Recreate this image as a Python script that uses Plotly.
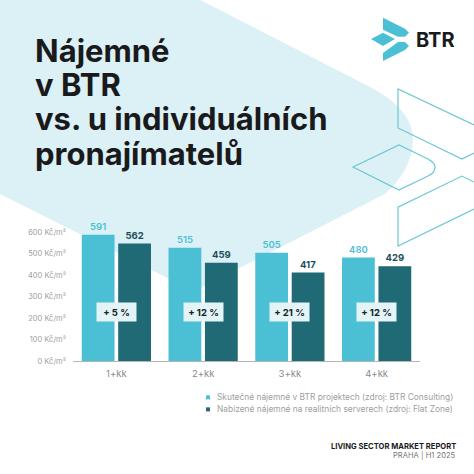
import plotly.graph_objects as go

W, H = 474, 474

categories = ["1+kk", "2+kk", "3+kk", "4+kk"]
# Bar heights as drawn in the picture (measured against the axis)
btr_heights = [589, 528, 505, 483]
listing_heights = [548, 458, 413, 442]
# Numbers as printed above the bars
btr_labels = ["591", "515", "505", "480"]
listing_labels = ["562", "459", "417", "429"]
badges = ["+ 5 %", "+ 12 %", "+ 21 %", "+ 12 %"]
tick_values = [0, 100, 200, 300, 400, 500, 600]
tick_labels = ["0 Kč/m²", "100 Kč/m²", "200 Kč/m²", "300 Kč/m²", "400 Kč/m²", "500 Kč/m²", "600 Kč/m²"]
title_lines = ["Nájemné", "v BTR", "vs. u individuálních", "pronajímatelů"]
legend_labels = ["Skutečné nájemné v BTR projektech (zdroj: BTR Consulting)",
                 "Nabízené nájemné na realitních serverech (zdroj: Flat Zone)"]

LIGHT = "#4bc0d5"
DARK = "#1f6a75"
FONT = "Inter, Lato, sans-serif"

LEFT, RIGHT, TOP, BOTTOM = 73, 420, 210.9, 360.7


def px(x):
    return (x - LEFT) / (RIGHT - LEFT)


def py(y):
    return (BOTTOM - y) / (BOTTOM - TOP)


def poly(points, **kw):
    path = "M " + " L ".join(f"{px(x):.4f},{py(y):.4f}" for x, y in points) + " Z"
    return dict(type="path", xref="paper", yref="paper", path=path, **kw)


def raw_path(cmds, **kw):
    out = []
    for c in cmds:
        if isinstance(c, str):
            out.append(c)
        else:
            out.append(f"{px(c[0]):.4f},{py(c[1]):.4f}")
    return dict(type="path", xref="paper", yref="paper", path=" ".join(out), **kw)


def outline(cmds):
    return raw_path(cmds, line=dict(color="#6cc7d3", width=1.2), layer="below")


BG = "#dbf1f6"
no_line = dict(width=0)
shapes = [
    raw_path(["M", (0, 0), "L", (200, 0), "L", (372, 88), "Q", (413, 110), (413, 140),
              "Q", (412, 170), (385, 194), "L", (194, 291), "L", (0, 194), "Z"],
             fillcolor=BG, line=no_line, layer="below"),
    outline(["M", (474, 125), "L", (398, 89), "L", (398, 128), "L", (462, 159), "L", (474, 153)]),
    outline(["M", (353, 167), "L", (399, 145), "L", (428, 159), "Q", (435, 163), (435, 167),
             "Q", (435, 173), (428, 176), "L", (399, 190), "Z"]),
    outline(["M", (474, 182), "L", (462, 176), "L", (398, 207), "L", (398, 246), "L", (474, 209)]),
    poly([(383, 18), (405, 29), (409, 33), (405, 37), (398, 37), (383, 30)], fillcolor=LIGHT, line=no_line),
    poly([(371, 39), (383, 33), (395, 39), (383, 46)], fillcolor=LIGHT, line=no_line),
    poly([(383, 53), (398, 42), (405, 42), (409, 46), (405, 50), (383, 61)], fillcolor=LIGHT, line=no_line),
    poly([(206, 395), (210, 395), (210, 399), (206, 399)], fillcolor=LIGHT, line=no_line),
    poly([(206, 407), (210, 407), (210, 411), (206, 411)], fillcolor=DARK, line=no_line),
]

annotations = []


def pix_text(text, x, y, size, color, bold=False, anchor="left"):
    annotations.append(dict(
        text=f"<b>{text}</b>" if bold else text, xref="paper", yref="paper",
        x=px(x), y=py(y), xanchor=anchor, yanchor="middle", showarrow=False,
        font=dict(family=FONT, size=size, color=color), borderpad=0))


for line, y in zip(title_lines, [51, 85, 119, 153]):
    pix_text(line, 34, y, 31, "#1a1a1c", bold=True)
pix_text("BTR", 415, 40, 20, "#1a1a1c", bold=True)
for label, y in zip(legend_labels, [397, 409]):
    pix_text(label, 216, y, 8.4, "#a0a0a0")
pix_text("LIVING SECTOR MARKET REPORT", 456.5, 446, 7.6, "#1a1a1c", bold=True, anchor="right")
pix_text("PRAHA | H1 2025", 456.5, 454.5, 7.6, "#777777", anchor="right")

for cat, badge in zip(categories, badges):
    annotations.append(dict(
        text=f"<b>{badge}</b>", x=cat, y=229, xref="x", yref="y", showarrow=False,
        width=37, height=16, bgcolor="#e4f3f6", align="center", valign="middle",
        font=dict(family=FONT, size=9.5, color="#14232a")))

fig = go.Figure()
fig.add_bar(name="BTR", x=categories, y=btr_heights, marker_color=LIGHT, marker_line_width=0,
            text=btr_labels, textposition="outside", cliponaxis=False,
            textfont=dict(family=FONT, size=9.5, color=LIGHT, weight=600))
fig.add_bar(name="Flat Zone", x=categories, y=listing_heights, marker_color=DARK, marker_line_width=0,
            text=listing_labels, textposition="outside", cliponaxis=False,
            textfont=dict(family=FONT, size=9.5, color="#1c4f5a", weight=700))

fig.update_layout(
    width=W, height=H, autosize=False,
    margin=dict(l=LEFT, r=W - RIGHT, t=TOP, b=H - BOTTOM, pad=0),
    paper_bgcolor="white", plot_bgcolor="rgba(0,0,0,0)",
    barmode="group", bargap=0.16, bargroupgap=0.1, showlegend=False,
    shapes=shapes, annotations=annotations,
    font=dict(family=FONT),
    xaxis=dict(showgrid=False, showline=True, linecolor="#b5b5b5", linewidth=1, ticks="",
               tickfont=dict(size=9.5, color="#8a8a8a", family=FONT), ticklabelstandoff=4),
    yaxis=dict(range=[0, 700], tickvals=tick_values, ticktext=tick_labels, showgrid=False,
               zeroline=False, showline=False, ticks="",
               tickfont=dict(size=7.5, color="#a0a0a0", family=FONT), ticklabelstandoff=6),
)
fig.write_html("out.html", config=dict(displayModeBar=False),
               post_script="document.body.style.margin='0';")
